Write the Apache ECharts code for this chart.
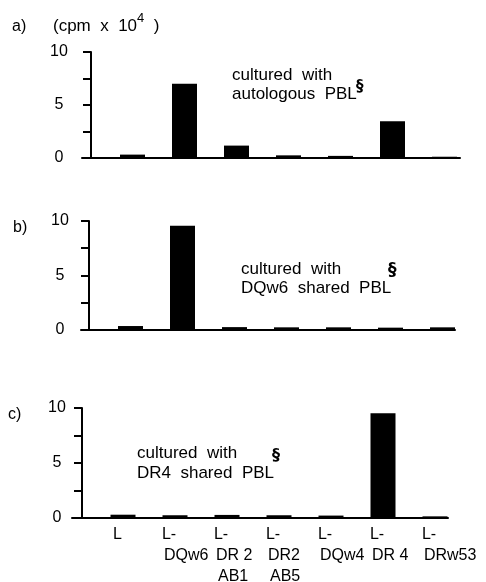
<!DOCTYPE html>
<html><head><meta charset="utf-8">
<script src="https://cdn.jsdelivr.net/npm/echarts@6/dist/echarts.min.js"></script>
<style>html,body{margin:0;padding:0;background:#fff}#c{width:486px;height:582px}</style>
</head><body><div id="c"></div>
<script>
// ---- data ----
const categories = [['L'], ['L-', 'DQw6'], ['L-', 'DR 2', 'AB1'], ['L-', 'DR2', 'AB5'], ['L-', 'DQw4'], ['L-', 'DR 4'], ['L-', 'DRw53']];
const valuesA = [0.32, 7.0, 1.17, 0.25, 0.2, 3.46, 0.12];
const valuesB = [0.32, 9.57, 0.22, 0.2, 0.2, 0.17, 0.2];
const valuesC = [0.3, 0.25, 0.28, 0.25, 0.22, 9.52, 0.15];
const yTickValues = [0, 2.5, 5, 7.5, 10];
const yLabelValues = [0, 5, 10];
const panelLetters = ['a)', 'b)', 'c)'];
const unitLabel = '(cpm  x  10';
const unitExp = '4';
const notes = [['cultured  with', 'autologous  PBL'], ['cultured  with', 'DQw6  shared  PBL'], ['cultured  with', 'DR4  shared  PBL']];
const footMark = '§';

// ---- layout ----
const FONT = '"Liberation Sans", Arial, sans-serif';
const STEP = 52;
const LABEL_SHIFT = 0.27; // category label block starts a little left of the bar centre
const layouts = [
  { top: 52, height: 106, left: 82, right: 460, axisX: 91, c0: 132.5, labelC: 59 },
  { top: 221, height: 108.5, left: 81, right: 455, axisX: 89, c0: 130.5, labelC: 60 },
  { top: 408, height: 110, left: 72, right: 448, axisX: 82, c0: 123, labelC: 57 }
];
const seriesValues = [valuesA, valuesB, valuesC];

const base = { fontFamily: FONT, fontSize: 16, fontWeight: 'normal', color: '#000' };
const grids = [], xAxes = [], yAxes = [], series = [];
layouts.forEach((p, k) => {
  grids.push({ left: p.left, top: p.top, width: p.right - p.left, height: p.height, outerBoundsMode: 'none', containLabel: false });
  const isLast = k === 2;
  xAxes.push({
    type: 'value', gridIndex: k,
    min: (p.left - p.c0) / STEP, max: (p.right - p.c0) / STEP,
    axisLine: { show: true, onZero: false, lineStyle: { color: '#000', width: 2 } },
    axisTick: { show: false },
    splitLine: { show: false },
    axisLabel: isLast ? {
      show: true, customValues: categories.map((c, i) => i - LABEL_SHIFT),
      hideOverlap: false, showMinLabel: true, showMaxLabel: true,
      align: 'left',
      margin: 6, color: '#000', fontFamily: FONT, fontSize: 16, lineHeight: 21,
      formatter: v => {
        const lines = categories[Math.round(v + LABEL_SHIFT)];
        if (!lines) return '';
        if (lines.length === 1) return '{s|' + lines[0] + '}';
        let t = '{a|' + lines[0] + '}\n{b|' + lines[1] + '}';
        if (lines[2]) t += '\n{c|' + lines[2] + '}';
        return t;
      },
      rich: {
        s: Object.assign({ lineHeight: 21, padding: [0, 0, 0, 4] }, base),
        a: Object.assign({ lineHeight: 21, padding: [0, 0, 0, 1] }, base),
        b: Object.assign({ lineHeight: 21, padding: [0, 0, 0, 3] }, base),
        c: Object.assign({ lineHeight: 21, padding: [0, 0, 0, 5] }, base)
      }
    } : { show: false }
  });
  yAxes.push({
    type: 'value', gridIndex: k, min: 0, max: 10, interval: 2.5,
    offset: p.left - p.axisX,
    axisLine: { show: true, onZero: false, lineStyle: { color: '#000', width: 2 } },
    axisTick: { show: true, length: 8, lineStyle: { color: '#000', width: 2 } },
    splitLine: { show: false },
    axisLabel: {
      show: true, align: 'center', margin: p.axisX - p.labelC,
      color: '#000', fontFamily: FONT, fontSize: 16,
      formatter: v => (yLabelValues.indexOf(v) >= 0 ? String(v) : '')
    }
  });
  series.push({
    type: 'bar', xAxisIndex: k, yAxisIndex: k, barWidth: 25,
    itemStyle: { color: '#000' },
    data: seriesValues[k].map((v, i) => [i, v]),
    silent: true, animation: false
  });
});

const txt = (text, left, top, style) => ({
  text, left, top, padding: 0,
  textStyle: Object.assign({}, base, { lineHeight: 19 }, style || {})
});

const titles = [
  txt(panelLetters[0], 12, 17),
  txt(panelLetters[1], 13, 218),
  txt(panelLetters[2], 8, 405),
  txt('{n|' + unitLabel + '}{e|' + unitExp + '}{n|  )}', 53, 12, {
    rich: {
      n: Object.assign({}, base, { fontSize: 17, lineHeight: 23, verticalAlign: 'bottom' }),
      e: Object.assign({}, base, { fontSize: 13, lineHeight: 23, verticalAlign: 'top' })
    }
  }),
  txt(notes[0].join('\n'), 232, 66, { fontSize: 17, lineHeight: 19 }),
  txt(notes[1].join('\n'), 241, 260, { fontSize: 17, lineHeight: 19 }),
  txt(notes[2].join('\n'), 137, 443, { fontSize: 17, lineHeight: 20 }),
  txt(footMark, 356, 78, { fontFamily: '"DejaVu Sans"', fontSize: 15, fontWeight: 'bold' }),
  txt(footMark, 388, 261, { fontFamily: '"DejaVu Sans"', fontSize: 17, fontWeight: 'bold' }),
  txt(footMark, 272, 446, { fontFamily: '"DejaVu Sans"', fontSize: 16, fontWeight: 'bold' })
];

const chart = echarts.init(document.getElementById('c'), null, { renderer: 'canvas' });
chart.setOption({
  animation: false,
  backgroundColor: '#fff',
  title: titles,
  grid: grids,
  xAxis: xAxes,
  yAxis: yAxes,
  series: series
});
</script>
</body></html>
